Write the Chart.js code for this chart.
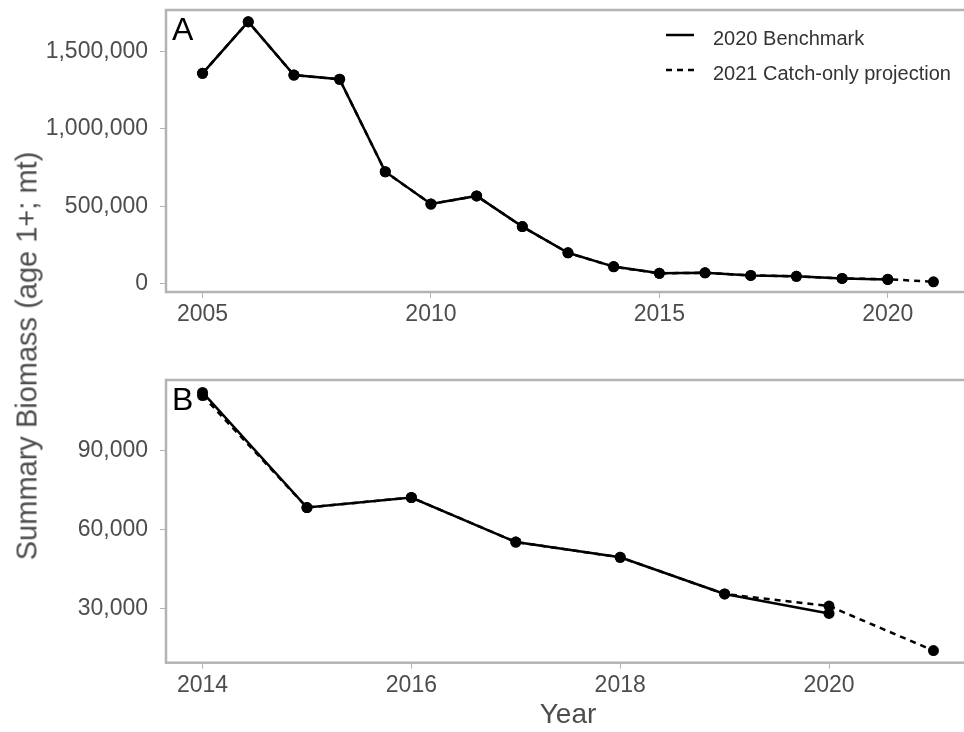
<!DOCTYPE html>
<html>
<head>
<meta charset="utf-8">
<script src="https://cdn.jsdelivr.net/npm/chart.js@4.4.1/dist/chart.umd.min.js"></script>
<style>
  body { margin: 0; background: #fff; width: 964px; height: 732px; position: relative; overflow: hidden;
         font-family: "Liberation Sans", Arial, sans-serif; }
  canvas { position: absolute; left: 0; }
  #chartA { top: 0; }
  #chartB { top: 360px; }
  #ytitle { position: absolute; left: 27px; top: 356px; transform: translate(-50%, -50%) rotate(-90deg);
            white-space: nowrap; font-size: 29px; color: #4d4d4d; }
</style>
</head>
<body>
<canvas id="chartA" width="976" height="340"></canvas>
<canvas id="chartB" width="976" height="372"></canvas>
<div id="ytitle">Summary Biomass (age 1+; mt)</div>
<script>
// values
var years = [2005, 2006, 2007, 2008, 2009, 2010, 2011, 2012, 2013, 2014, 2015, 2016, 2017, 2018, 2019, 2020, 2021];
var benchmark = [1359000, 1692000, 1348000, 1321000, 724000, 516000, 568000, 370000, 201000, 112000,
                 68300, 72100, 55200, 49400, 35500, 28100];
var projection = [1359000, 1692000, 1348000, 1321000, 724000, 516000, 568000, 370000, 201000, 110800,
                  68300, 72100, 55200, 49400, 35500, 30900, 14000];
var seriesNames = ['2020 Benchmark', '2021 Catch-only projection'];

var xTicksA = [2005, 2010, 2015, 2020];
var yTicksA = [0, 500000, 1000000, 1500000];
var xTicksB = [2014, 2016, 2018, 2020];
var yTicksB = [30000, 60000, 90000];

var FONT = '"Liberation Sans", Arial, sans-serif';

function toPoints(vals, fromYear) {
    var pts = [];
    vals.forEach(function (v, i) {
        if (years[i] >= fromYear) pts.push({ x: years[i], y: v });
    });
    return pts;
}

var framePlugin = {
    id: 'frame',
    afterDatasetsDraw: function (chart) {
        var a = chart.chartArea, ctx = chart.ctx;
        ctx.save();
        ctx.strokeStyle = '#b3b3b3';
        ctx.lineWidth = 2.5;
        ctx.strokeRect(a.left, a.top, a.right - a.left, a.bottom - a.top);
        ctx.restore();
    }
};

var panelLabel = {
    id: 'panelLabel',
    afterDraw: function (chart, args, opts) {
        var a = chart.chartArea, ctx = chart.ctx;
        ctx.save();
        ctx.font = '32px ' + FONT;
        ctx.fillStyle = '#000';
        ctx.textBaseline = 'alphabetic';
        ctx.fillText(opts.text, a.left + 6, a.top + 30);
        ctx.restore();
    }
};

var insideLegend = {
    id: 'insideLegend',
    afterDraw: function (chart, args, opts) {
        if (!opts.show) return;
        var ctx = chart.ctx;
        ctx.save();
        ctx.font = '20px ' + FONT;
        ctx.fillStyle = '#333';
        ctx.textBaseline = 'alphabetic';
        chart.data.datasets.forEach(function (ds, i) {
            var y = 35 + i * 35;
            ctx.strokeStyle = '#000';
            ctx.lineWidth = 2.5;
            ctx.setLineDash(ds.borderDash || []);
            ctx.beginPath();
            ctx.moveTo(666, y);
            ctx.lineTo(694, y);
            ctx.stroke();
            ctx.setLineDash([]);
            ctx.fillText(ds.label, 713, y + 10);
        });
        ctx.restore();
    }
};

function makePanel(id, cfg) {
    return new Chart(document.getElementById(id), {
        type: 'line',
        data: {
            datasets: [{
                label: seriesNames[0],
                data: toPoints(benchmark, cfg.fromYear),
                borderColor: '#000',
                backgroundColor: '#000',
                borderWidth: 2.5,
                pointRadius: 5.5,
                pointBorderWidth: 0,
                pointBackgroundColor: '#000',
                order: 0,
                clip: false
            }, {
                label: seriesNames[1],
                data: toPoints(projection, cfg.fromYear),
                borderColor: '#000',
                backgroundColor: '#000',
                borderWidth: 2.5,
                borderDash: [6, 5],
                pointRadius: 5.5,
                pointBorderWidth: 0,
                pointBackgroundColor: '#000',
                order: 1,
                clip: false
            }]
        },
        options: {
            responsive: false,
            animation: false,
            devicePixelRatio: 1,
            layout: { padding: { left: 0, right: 6, top: cfg.top, bottom: 0 } },
            plugins: {
                legend: { display: false },
                tooltip: { enabled: false },
                panelLabel: { text: cfg.letter },
                insideLegend: { show: cfg.legend }
            },
            scales: {
                x: {
                    type: 'linear',
                    min: cfg.xMin,
                    max: cfg.xMax,
                    afterBuildTicks: function (s) { s.ticks = cfg.xTicks.map(function (v) { return { value: v }; }); },
                    afterFit: function (s) {
                        s.height = cfg.xHeight;
                        s.paddingLeft = 0;
                        s.paddingRight = 0;
                    },
                    ticks: {
                        callback: function (v) { return String(v); },
                        color: '#4d4d4d',
                        font: { size: 23, family: FONT },
                        padding: 3,
                        maxRotation: 0,
                        autoSkip: false
                    },
                    grid: { drawOnChartArea: false, tickLength: 6, color: '#b3b3b3', lineWidth: 1 },
                    border: { display: false },
                    title: cfg.xTitle
                },
                y: {
                    type: 'linear',
                    min: cfg.yMin,
                    max: cfg.yMax,
                    afterBuildTicks: function (s) { s.ticks = cfg.yTicks.map(function (v) { return { value: v }; }); },
                    afterFit: function (s) {
                        s.width = 166;
                        s.paddingTop = 0;
                        s.paddingBottom = 0;
                    },
                    ticks: {
                        callback: function (v) { return v.toLocaleString('en-US'); },
                        color: '#4d4d4d',
                        font: { size: 23, family: FONT },
                        padding: 12
                    },
                    grid: { drawOnChartArea: false, tickLength: 6, color: '#b3b3b3', lineWidth: 1 },
                    border: { display: false }
                }
            }
        },
        plugins: [framePlugin, panelLabel, insideLegend]
    });
}

makePanel('chartA', {
    letter: 'A', legend: true, fromYear: 2005, top: 10, xHeight: 48,
    xMin: 2004.2, xMax: 2021.8, yMin: -52000, yMax: 1768000,
    xTicks: xTicksA, yTicks: yTicksA,
    xTitle: { display: false }
});

makePanel('chartB', {
    letter: 'B', legend: false, fromYear: 2014, top: 20, xHeight: 69.3,
    xMin: 2013.65, xMax: 2021.35, yMin: 9400, yMax: 116700,
    xTicks: xTicksB, yTicks: yTicksB,
    xTitle: { display: true, text: 'Year', color: '#4d4d4d', font: { size: 28, family: FONT }, padding: 0 }
});
</script>
</body>
</html>
